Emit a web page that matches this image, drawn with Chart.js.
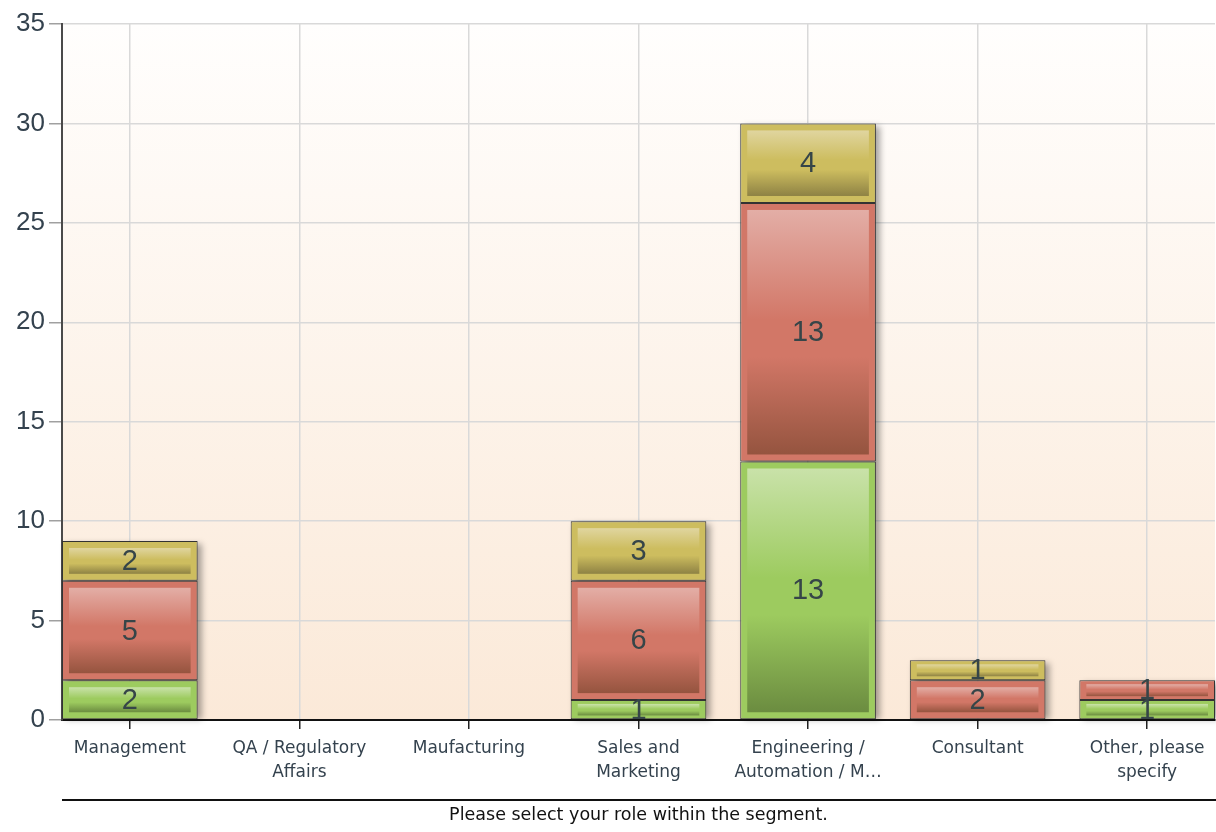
<!DOCTYPE html>
<html>
<head>
<meta charset="utf-8">
<script src="https://cdn.jsdelivr.net/npm/chart.js@4/dist/chart.umd.min.js"></script>
<style>
  html, body { margin: 0; padding: 0; background: #ffffff; }
  #wrap { width: 1216px; height: 832px; }
</style>
</head>
<body>
<div id="wrap"><canvas id="roleChart" width="1216" height="832"></canvas></div>
<script>
// categories on the x axis (as shown, incl. the original spelling)
const categories = [
  'Management',
  ['QA / Regulatory', 'Affairs'],
  'Maufacturing',
  ['Sales and', 'Marketing'],
  ['Engineering /', 'Automation / M\u2026'],
  'Consultant',
  ['Other, please', 'specify']
];

// stacked series, bottom to top
const greenValues  = [2, 0, 0, 1, 13, 0, 1];
const redValues    = [5, 0, 0, 6, 13, 2, 1];
const yellowValues = [2, 0, 0, 3, 4, 1, 0];

const yTicks = [0, 5, 10, 15, 20, 25, 30, 35];
const axisTitle = 'Please select your role within the segment.';

const FONT = "'Liberation Sans', Arial, sans-serif";
const WIDE = "'DejaVu Sans', Verdana, sans-serif";

// base colour + inner gradient stops for each series
const palettes = [
  { base: '#9dcb5f', top: '#c9e2a9', bottom: '#6b8c40' },
  { base: '#d27767', top: '#e3aea6', bottom: '#95543f' },
  { base: '#cdbd5f', top: '#e0d59f', bottom: '#8e8244' }
];

function toPoints(values) {
  return values.map((v, i) => ({ x: i, y: v }));
}

// plot background: white fading into peach
const plotBackground = {
  id: 'plotBackground',
  beforeDraw(chart) {
    const { ctx, chartArea: a } = chart;
    const g = ctx.createLinearGradient(0, a.top, 0, a.bottom);
    g.addColorStop(0, '#fffefd');
    g.addColorStop(1, '#fbe9d8');
    ctx.save();
    ctx.fillStyle = g;
    ctx.fillRect(a.left, a.top, a.right - a.left, a.bottom - a.top);
    ctx.restore();
  }
};

// soft drop shadow behind every stack
const stackShadow = {
  id: 'stackShadow',
  beforeDatasetsDraw(chart) {
    const { ctx } = chart;
    const metas = chart.data.datasets.map((d, i) => chart.getDatasetMeta(i));
    ctx.save();
    ctx.filter = 'blur(3px)';
    ctx.fillStyle = 'rgba(0,0,0,0.35)';
    categories.forEach((c, i) => {
      let top = Infinity, base = -Infinity, x = 0, w = 0;
      metas.forEach(m => {
        const el = m.data[i];
        if (!el) return;
        const p = el.getProps(['x', 'y', 'base', 'width'], true);
        if (Math.abs(p.base - p.y) < 1) return;
        top = Math.min(top, p.y);
        base = Math.max(base, p.base);
        x = p.x; w = p.width;
      });
      if (top === Infinity) return;
      ctx.fillRect(x - w / 2 + 4, top + 3, w, base - top - 3);
    });
    ctx.restore();
  }
};

// glossy inset on each segment, then the value label
const segmentDecor = {
  id: 'segmentDecor',
  afterDatasetsDraw(chart) {
    const { ctx } = chart;
    ctx.save();
    chart.data.datasets.forEach((ds, di) => {
      const meta = chart.getDatasetMeta(di);
      const pal = palettes[di];
      meta.data.forEach(el => {
        const p = el.getProps(['x', 'y', 'base', 'width'], true);
        const h = p.base - p.y;
        if (h < 1) return;
        const inset = Math.min(7, h * 0.2);
        const x0 = p.x - p.width / 2 + 7;
        const y0 = p.y + inset;
        const w = p.width - 14;
        const ih = h - inset * 2;
        const g = ctx.createLinearGradient(0, y0, 0, y0 + ih);
        g.addColorStop(0, pal.top);
        g.addColorStop(0.45, pal.base);
        g.addColorStop(0.6, pal.base);
        g.addColorStop(1, pal.bottom);
        ctx.fillStyle = g;
        ctx.fillRect(x0, y0, w, ih);
      });
    });
    ctx.font = '29px ' + FONT;
    ctx.fillStyle = '#364548';
    ctx.textAlign = 'center';
    ctx.textBaseline = 'middle';
    chart.data.datasets.forEach((ds, di) => {
      const meta = chart.getDatasetMeta(di);
      meta.data.forEach((el, i) => {
        const v = ds.data[i].y;
        if (!v) return;
        const p = el.getProps(['x', 'y', 'base'], true);
        ctx.fillText(String(v), p.x, (p.y + p.base) / 2 + 1);
      });
    });
    ctx.restore();
  }
};

// rule above the axis title
const titleRule = {
  id: 'titleRule',
  afterDraw(chart) {
    const { ctx } = chart;
    const x = chart.scales.x;
    ctx.save();
    ctx.strokeStyle = '#111';
    ctx.lineWidth = 2;
    ctx.beginPath();
    ctx.moveTo(x.left, x.top + 80);
    ctx.lineTo(chart.width, x.top + 80);
    ctx.stroke();
    ctx.restore();
  }
};

function makeDataset(values, pal) {
  return {
    data: toPoints(values),
    backgroundColor: pal.base,
    borderColor: '#333333',
    borderWidth: 1,
    borderSkipped: false,
    barPercentage: 1,
    categoryPercentage: 0.8
  };
}

new Chart(document.getElementById('roleChart'), {
  type: 'bar',
  data: {
    datasets: [
      makeDataset(greenValues, palettes[0]),
      makeDataset(redValues, palettes[1]),
      makeDataset(yellowValues, palettes[2])
    ]
  },
  plugins: [plotBackground, stackShadow, segmentDecor, titleRule],
  options: {
    responsive: false,
    animation: false,
    layout: { padding: { top: 24, right: 1, left: 0, bottom: 0 } },
    plugins: {
      legend: { display: false },
      tooltip: { enabled: false }
    },
    scales: {
      x: {
        type: 'linear',
        stacked: true,
        offset: false,
        min: -0.4,
        max: categories.length - 0.6,
        afterBuildTicks(scale) {
          scale.ticks = categories.map((c, i) => ({ value: i }));
        },
        afterFit(scale) { scale.height = 112; },
        grid: {
          offset: false,
          color: '#d9d9d9',
          lineWidth: 1.5,
          tickColor: '#222',
          tickLength: 9
        },
        border: { color: '#111', width: 2 },
        ticks: {
          autoSkip: false,
          maxRotation: 0,
          padding: 7,
          color: '#34424e',
          font: { family: WIDE, size: 17, lineHeight: 1.45 },
          callback: (v) => categories[v]
        },
        title: {
          display: true,
          text: axisTitle,
          color: '#111',
          font: { family: WIDE, size: 17.5, lineHeight: 1.2 },
          padding: { top: 0, bottom: 6 }
        }
      },
      y: {
        stacked: true,
        min: 0,
        max: 35,
        afterBuildTicks(scale) {
          scale.ticks = yTicks.map(v => ({ value: v }));
        },
        afterFit(scale) { scale.width = 62; },
        grid: {
          color: '#d9d9d9',
          lineWidth: 1.5,
          tickColor: '#a0a0a0',
          tickLength: 13
        },
        border: { color: '#4a4a4a', width: 2 },
        ticks: {
          padding: 4,
          color: '#34424e',
          font: { family: FONT, size: 26 }
        }
      }
    }
  }
});
</script>
</body>
</html>
